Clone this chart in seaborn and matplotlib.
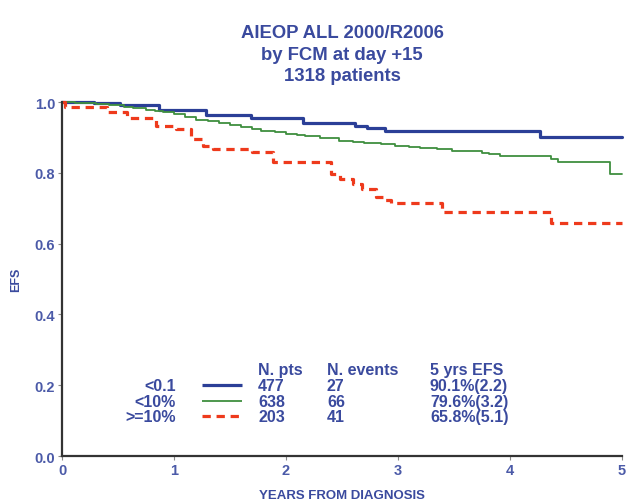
import matplotlib
matplotlib.use("Agg")
import matplotlib.pyplot as plt
import seaborn as sns
import pandas as pd

# Kaplan-Meier EFS step data by FCM MRD level at day +15
groups = ["<0.1", "<10%", ">=10%"]

t_low = [0, 0.29, 0.52, 0.87, 1.29, 1.69, 2.15, 2.62, 2.72, 2.88, 4.27, 5.0]
efs_low = [1.0, 0.997, 0.991, 0.978, 0.964, 0.955, 0.941, 0.933, 0.926, 0.917, 0.901, 0.901]

t_mid = [0, 0.12, 0.3, 0.42, 0.55, 0.63, 0.75, 0.83, 0.9, 1.0, 1.1, 1.2, 1.3, 1.4,
         1.5, 1.6, 1.7, 1.78, 1.9, 2.0, 2.1, 2.17, 2.3, 2.47, 2.6, 2.7, 2.85, 2.97,
         3.1, 3.2, 3.35, 3.48, 3.75, 3.81, 3.91, 4.37, 4.43, 4.89, 5.0]
efs_mid = [1.0, 0.998, 0.995, 0.991, 0.987, 0.983, 0.978, 0.975, 0.971, 0.966, 0.958,
           0.950, 0.945, 0.940, 0.935, 0.929, 0.924, 0.919, 0.914, 0.911, 0.908, 0.905,
           0.899, 0.891, 0.888, 0.885, 0.881, 0.877, 0.873, 0.870, 0.866, 0.862, 0.857,
           0.853, 0.847, 0.839, 0.830, 0.797, 0.797]

t_high = [0, 0.03, 0.40, 0.58, 0.84, 1.02, 1.15, 1.26, 1.35, 1.70, 1.88, 2.40, 2.48,
          2.60, 2.68, 2.80, 2.87, 2.94, 3.39, 4.37, 5.0]
efs_high = [1.0, 0.985, 0.971, 0.955, 0.933, 0.924, 0.895, 0.876, 0.867, 0.858, 0.830,
            0.797, 0.782, 0.768, 0.754, 0.733, 0.724, 0.715, 0.688, 0.658, 0.658]

n_pts = [477, 638, 203]
n_events = [27, 66, 41]
efs_5y = ["90.1%(2.2)", "79.6%(3.2)", "65.8%(5.1)"]

title_lines = ["AIEOP ALL 2000/R2006", "by FCM at day +15", "1318 patients"]
x_ticks = [0, 1, 2, 3, 4, 5]
y_ticks = [0.0, 0.2, 0.4, 0.6, 0.8, 1.0]

sns.set_theme(style="white")
plt.rcParams["font.family"] = ["Liberation Sans", "DejaVu Sans"]

TEXT = "#3a4a9e"
TICK_TEXT = "#4b5aa8"
colors = ["#2b3f97", "#3f8f3f", "#ee3a1c"]
widths = [2.3, 1.3, 2.3]
styles = ["-", "-", (0, (2.6, 1.8))]

df = pd.concat([
    pd.DataFrame({"time": t, "efs": s, "group": g})
    for t, s, g in zip([t_low, t_mid, t_high], [efs_low, efs_mid, efs_high], groups)
], ignore_index=True)

fig = plt.figure(figsize=(6.27, 5.02), dpi=100)
ax = fig.add_axes([0.0989, 0.0896, 0.8931, 0.7052])

for g, c, lw, ls in zip(groups, colors, widths, styles):
    sns.lineplot(data=df[df["group"] == g], x="time", y="efs", ax=ax,
                 drawstyle="steps-post", color=c, linewidth=lw, linestyle=ls,
                 estimator=None, legend=False, clip_on=False)

ax.set_xlim(0, 5)
ax.set_ylim(0, 1.0)
ax.set_xticks(x_ticks)
ax.set_xticklabels([str(v) for v in x_ticks])
ax.set_yticks(y_ticks)
ax.set_yticklabels([f"{v:.1f}" for v in y_ticks])
ax.tick_params(axis="both", which="major", length=3, width=0.8, color="#888888",
               labelsize=10.5, labelcolor=TICK_TEXT, pad=2, left=True, bottom=True)
for lab in ax.get_xticklabels() + ax.get_yticklabels():
    lab.set_fontweight("bold")

for side in ["top", "right"]:
    ax.spines[side].set_visible(False)
for side in ["left", "bottom"]:
    ax.spines[side].set_color("#333333")
    ax.spines[side].set_linewidth(1.6)

ax.set_xlabel("YEARS FROM DIAGNOSIS", fontsize=9.5, fontweight="bold", color=TEXT,
              labelpad=9)
ax.set_ylabel("EFS", fontsize=9, fontweight="bold", color=TEXT, labelpad=9)

fig.text(0.5455, 0.890, "\n".join(title_lines), ha="center", va="center",
         multialignment="center", fontsize=13.3, fontweight="bold", color=TEXT,
         linespacing=1.33)

# Summary table drawn inside the axes
fs = 11.5
row_y = [0.2006, 0.1554, 0.1130]
head_y = 0.2458
col_x = [0.350, 0.473, 0.657]
for x, h in zip(col_x, ["N. pts", "N. events", "5 yrs EFS"]):
    ax.text(x, head_y, h, transform=ax.transAxes, fontsize=fs, color=TEXT,
            fontweight="bold", ha="left", va="center")
for i, g in enumerate(groups):
    y = row_y[i]
    ax.text(0.2036, y, g, transform=ax.transAxes, fontsize=fs, color=TEXT,
            fontweight="bold", ha="right", va="center")
    ax.plot([0.250, 0.321], [y, y], transform=ax.transAxes, color=colors[i],
            linewidth=widths[i], linestyle=styles[i], solid_capstyle="butt")
    for x, v in zip(col_x, [str(n_pts[i]), str(n_events[i]), efs_5y[i]]):
        ax.text(x, y, v, transform=ax.transAxes, fontsize=fs, color=TEXT,
                fontweight="bold", ha="left", va="center")

fig.savefig("out.png", dpi=100, facecolor="white")
